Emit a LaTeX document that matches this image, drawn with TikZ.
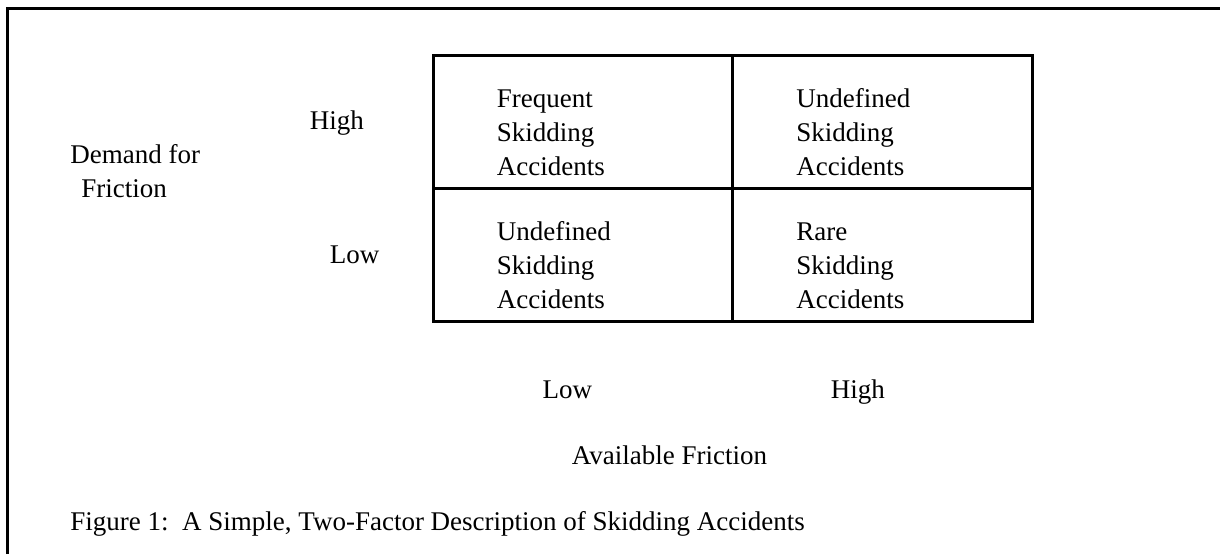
\documentclass[tikz,border=0pt]{standalone}
\usepackage{fontspec}
\setmainfont{Liberation Serif}
\usetikzlibrary{matrix, calc, positioning}

\begin{document}
\begin{tikzpicture}[
    x=0.5pt, y=-0.5pt,
    cell/.style={draw, line width=1.5pt, minimum width=149.75pt, minimum height=66.5pt, inner sep=0pt},
    lbl/.style={font=\fontsize{13.5}{17}\selectfont, inner sep=0pt},
    txt/.style={lbl, align=left, anchor=west}
]
    \useasboundingbox (0,0) rectangle (1220,554);
    \draw[line width=1.5pt, line join=miter] (7,554) -- (7,8) -- (1220,8);
    \matrix (tbl) [matrix of nodes, nodes in empty cells, nodes={cell}, column sep=-1.5pt, row sep=-1.5pt, inner sep=0pt] at (732.5,188) {
        & \\
        & \\
    };
    \node[txt] (t11) at ($(tbl-1-1.west)+(65,11)$) {Frequent\\Skidding\\Accidents};
    \node[txt] (t12) at ($(tbl-1-2.west)+(65,11)$) {Undefined\\Skidding\\Accidents};
    \node[txt] (t21) at ($(tbl-2-1.west)+(65,11)$) {Undefined\\Skidding\\Accidents};
    \node[txt] (t22) at ($(tbl-2-2.west)+(65,11)$) {Rare\\Skidding\\Accidents};
    \node[lbl, anchor=base west] (hi) at ($(tbl-1-1.west)+(-122,8)$) {High};
    \node[lbl, anchor=base west] (lo) at ($(tbl-2-1.west)+(-102,9)$) {Low};
    \node[txt] (dem) at (70,171) {Demand for\\\hspace*{5.5pt}Friction};
    \node[lbl, anchor=base] (clo) at ($(tbl-2-1.south)+(-15.5,76)$) {Low};
    \node[lbl, anchor=base] (chi) at ($(tbl-2-2.south)+(-24.5,76)$) {High};
    \node[lbl, anchor=base] (avail) at ($(tbl.south)+(-63,142)$) {Available Friction};
    \node[lbl, anchor=base west] (cap) at (70,530) {Figure 1:\ \ A Simple, Two-Factor Description of Skidding Accidents};
\end{tikzpicture}
\end{document}
